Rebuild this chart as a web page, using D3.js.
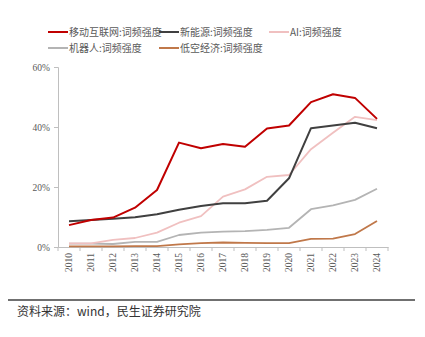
<!DOCTYPE html>
<html><head><meta charset="utf-8">
<script src="https://cdn.jsdelivr.net/npm/d3@7"></script>
<style>body{margin:0;background:#fff}</style>
</head><body><div id="c"></div>
<script>
const years = ["2010","2011","2012","2013","2014","2015","2016","2017","2018","2019","2020","2021","2022","2023","2024"];
const mobile = [7.3,9.0,9.8,13.1,19.0,34.8,32.9,34.3,33.4,39.5,40.5,48.3,50.9,49.7,42.7];
const newEnergy = [8.6,9.0,9.4,9.9,10.9,12.4,13.7,14.6,14.6,15.4,22.9,39.6,40.5,41.4,39.6];
const ai = [1.2,1.2,2.4,3.0,4.8,8.1,10.3,16.8,19.2,23.4,24.0,32.6,38.1,43.4,42.3];
const robot = [1.1,1.1,1.0,1.7,1.7,4.0,4.8,5.1,5.3,5.7,6.4,12.6,13.9,15.7,19.4];
const lowAlt = [0.2,0.2,0.2,0.3,0.3,0.9,1.3,1.5,1.4,1.3,1.3,2.7,2.8,4.3,8.7];
const yTicks = [0,20,40,60];
const seriesNames = ["移动互联网:词频强度","新能源:词频强度","AI:词频强度","机器人:词频强度","低空经济:词频强度"];
const seriesData = [mobile,newEnergy,ai,robot,lowAlt];
const colors = ["#c00000","#404040","#f0c0c0","#b4b4b4","#c0784a"];

const W=425,H=337;
const svg=d3.select("#c").append("svg").attr("width",W).attr("height",H);
const x=d3.scaleBand().domain(years).range([58,388]);
const y=d3.scaleLinear().domain([0,60]).range([247,67]);

// axes
const ya=svg.append("g").attr("transform","translate(58,0)")
  .call(d3.axisLeft(y).tickValues(yTicks).tickFormat(d=>d+"%").tickSize(4));
ya.select(".domain").attr("stroke","#bfbfbf");
ya.selectAll("line").attr("stroke","#bfbfbf");
ya.selectAll("text").attr("fill","#595959").attr("font-family","Liberation Serif").attr("font-size",9.5).attr("x",-8);

const xa=svg.append("g").attr("transform","translate(0,247)")
  .call(d3.axisBottom(x).tickSize(0).tickSizeOuter(0));
xa.select(".domain").attr("stroke","#bfbfbf");
xa.selectAll(".tick line").remove();
xa.selectAll("text").attr("fill","#595959").attr("font-family","Liberation Serif").attr("font-size",9.5)
  .attr("transform","rotate(-90)").attr("text-anchor","end").attr("x",-6).attr("y",0).attr("dy","0.35em");
// tick marks between categories
xa.selectAll(".sep").data(d3.range(years.length+1)).join("line")
  .attr("x1",i=>58+i*x.step()).attr("x2",i=>58+i*x.step()).attr("y1",0).attr("y2",4).attr("stroke","#bfbfbf");

const line=d3.line().x((d,i)=>x(years[i])+x.bandwidth()/2).y(d=>y(d));
const order=[4,3,2,1,0];
order.forEach(k=>{
  svg.append("path").datum(seriesData[k]).attr("d",line).attr("fill","none")
    .attr("stroke",colors[k]).attr("stroke-width",k<=1?2:1.8).attr("stroke-linejoin","round");
});

// legend
const legPos=[[48,32],[159,32],[269,32],[48,48],[159,48]];
seriesNames.forEach((n,k)=>{
  const [lx,ly]=legPos[k];
  svg.append("line").attr("x1",lx).attr("x2",lx+20).attr("y1",ly).attr("y2",ly).attr("stroke",colors[k]).attr("stroke-width",2);
  svg.append("text").attr("x",lx+21).attr("y",ly).attr("dy","0.35em").text(n)
    .attr("font-family","Noto Sans CJK SC").attr("font-size",10).attr("fill","#595959");
});

// footer
svg.append("line").attr("x1",8).attr("x2",415).attr("y1",300).attr("y2",300).attr("stroke","#404040").attr("stroke-width",1.5);
svg.append("text").attr("x",17).attr("y",316).text("资料来源：wind，民生证券研究院")
  .attr("font-family","Noto Sans CJK SC").attr("font-size",12).attr("fill","#333");
</script></body></html>
